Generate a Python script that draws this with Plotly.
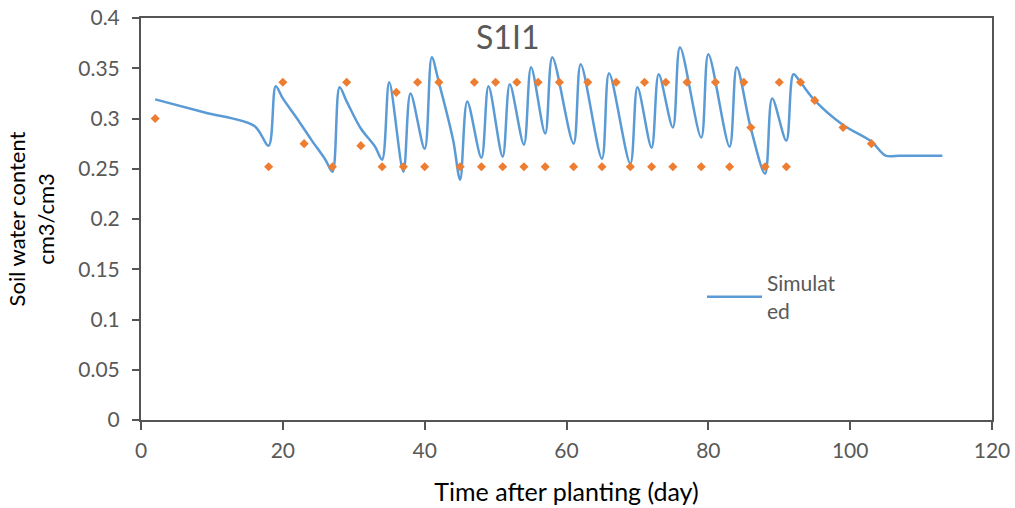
import plotly.graph_objects as go

# Simulated soil water content
sim_day = [2, 9, 16, 18, 19, 20, 22, 24, 26, 27, 28, 29, 31, 33, 34, 35, 37, 38, 40, 41, 42, 44, 45,
           46, 48, 49, 51, 52, 54, 55, 57, 58, 61, 62, 65, 66, 69, 70, 72, 73, 75, 76, 79, 80,
           83, 84, 86, 88, 89, 91, 92, 93, 95, 99, 103, 105, 107, 110, 113]
sim_swc = [0.319, 0.306, 0.2925, 0.273, 0.332, 0.320, 0.300, 0.279, 0.259, 0.247, 0.331, 0.317, 0.290,
           0.272, 0.259, 0.336, 0.247, 0.325, 0.270, 0.361, 0.336, 0.279, 0.239,
           0.317, 0.261, 0.332, 0.262, 0.334, 0.274, 0.351, 0.285, 0.361, 0.275, 0.354, 0.260,
           0.345, 0.255, 0.331, 0.271, 0.344, 0.291, 0.371, 0.281, 0.364,
           0.272, 0.351, 0.290, 0.245, 0.320, 0.278, 0.344, 0.336, 0.318, 0.2935, 0.277, 0.263,
           0.263, 0.263, 0.263]

# Observed soil water content
obs_day = [2, 18, 20, 23, 27, 29, 31, 34, 36, 37, 39, 40, 42, 45, 47, 48, 50, 51, 53, 54, 56, 57,
           59, 61, 63, 65, 67, 69, 71, 72, 74, 75, 77, 79, 81, 83, 85, 86, 88, 90, 91, 93, 95, 99, 103]
obs_swc = [0.300, 0.252, 0.336, 0.275, 0.252, 0.336, 0.273, 0.252, 0.326, 0.252, 0.336, 0.252,
           0.336, 0.252, 0.336, 0.252, 0.336, 0.252, 0.336, 0.252, 0.336, 0.252, 0.336, 0.252,
           0.336, 0.252, 0.336, 0.252, 0.336, 0.252, 0.336, 0.252, 0.336, 0.252, 0.336, 0.252,
           0.336, 0.291, 0.252, 0.336, 0.252, 0.336, 0.318, 0.291, 0.275]

x_ticks = [0, 20, 40, 60, 80, 100, 120]
y_ticks = [0, 0.05, 0.1, 0.15, 0.2, 0.25, 0.3, 0.35, 0.4]
y_ticklabels = ["0", "0.05", "0.1", "0.15", "0.2", "0.25", "0.3", "0.35", "0.4"]

FONT = "Lato"
GRAY = "#595959"
AXIS = "#555555"
L, R, T, B = 141, 23, 18, 88
PW, PH = 1015 - L - R, 508 - T - B

fig = go.Figure()
fig.add_trace(go.Scatter(
    x=sim_day, y=sim_swc, mode="lines", name="Simulat<br>ed",
    line=dict(color="#5B9BD5", width=2.5, shape="spline", smoothing=0.9),
))
fig.add_trace(go.Scatter(
    x=obs_day, y=obs_swc, mode="markers", name="Observed", showlegend=False,
    marker=dict(color="#ED7D31", size=7, symbol="diamond", line=dict(width=0)),
))

fig.update_layout(
    width=1015, height=508,
    margin=dict(l=L, r=R, t=T, b=B, autoexpand=False),
    paper_bgcolor="white", plot_bgcolor="white",
    font=dict(family=FONT, color=GRAY, size=21),
    showlegend=True,
    legend=dict(x=(702 - L) / PW, y=1 - (263 - T) / PH, xanchor="left", yanchor="top",
                bgcolor="rgba(0,0,0,0)", font=dict(size=21, color=GRAY, family=FONT),
                itemwidth=55, borderwidth=0),
    annotations=[dict(text="S1I1", x=(507 - L) / PW, y=1 - (37 - T) / PH,
                      xref="paper", yref="paper", xanchor="center", yanchor="middle",
                      showarrow=False, font=dict(size=32, color=GRAY, family=FONT))],
)

fig.update_xaxes(
    range=[0, 120], tickvals=x_ticks, ticktext=[str(v) for v in x_ticks],
    showline=True, linecolor=AXIS, linewidth=2, mirror=True,
    ticks="outside", ticklen=8, tickwidth=1.5, tickcolor=AXIS,
    showgrid=False, zeroline=False, automargin=False, ticklabelstandoff=3,
    tickfont=dict(size=21, color=GRAY, family=FONT),
    title=dict(text="Time after planting (day)", font=dict(size=25, color="black", family=FONT),
               standoff=22),
)
fig.update_yaxes(
    range=[0, 0.4], tickvals=y_ticks, ticktext=y_ticklabels,
    showline=True, linecolor=AXIS, linewidth=2, mirror=True,
    ticks="outside", ticklen=7, tickwidth=1.5, tickcolor=AXIS,
    showgrid=False, zeroline=False, automargin=False, ticklabelstandoff=8,
    tickfont=dict(size=21, color=GRAY, family=FONT),
    title=dict(text="Soil water content<br>cm3/cm3", font=dict(size=22, color="black", family=FONT),
               standoff=18),
)

fig.write_html("out.html")
